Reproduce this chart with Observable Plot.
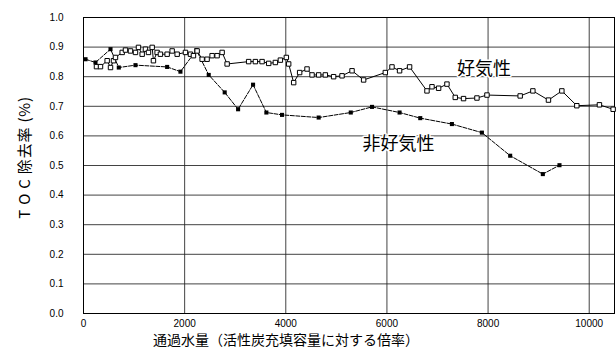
<!DOCTYPE html>
<html><head><meta charset="utf-8">
<script src="https://cdn.jsdelivr.net/npm/d3@7"></script>
<script src="https://cdn.jsdelivr.net/npm/@observablehq/plot@0.6"></script>
<style>body{margin:0;background:#fff}</style>
</head><body><div id="chart"></div>
<script>
const aerobicX = [257,336,468,534,593,632,765,830,929,1028,1087,1160,1225,1285,1358,1383,1456,1521,1654,1753,1852,2016,2115,2174,2247,2346,2444,2543,2642,2741,2840,3266,3399,3531,3662,3794,3893,4011,4057,4156,4274,4420,4519,4650,4782,4946,5112,5310,5539,5968,6100,6250,6448,6792,6891,7022,7187,7351,7515,7780,7978,8635,8886,9194,9459,9755,10202,10473];
const aerobicY = [0.834,0.834,0.854,0.831,0.854,0.865,0.882,0.890,0.887,0.882,0.899,0.876,0.893,0.882,0.899,0.854,0.882,0.876,0.876,0.887,0.876,0.882,0.876,0.871,0.887,0.859,0.859,0.871,0.871,0.882,0.843,0.851,0.851,0.851,0.845,0.848,0.856,0.865,0.843,0.780,0.814,0.826,0.806,0.806,0.806,0.800,0.803,0.820,0.789,0.814,0.833,0.820,0.833,0.752,0.766,0.761,0.775,0.730,0.726,0.728,0.738,0.735,0.752,0.721,0.752,0.702,0.705,0.690];
const anaerobicX = [40,237,534,698,1028,1654,1917,2233,2476,2792,3057,3353,3616,3926,4650,5285,5705,6250,6659,7285,7878,8437,9083,9412];
const anaerobicY = [0.859,0.848,0.893,0.831,0.839,0.833,0.817,0.890,0.806,0.747,0.690,0.773,0.679,0.671,0.662,0.679,0.698,0.679,0.660,0.640,0.611,0.533,0.471,0.501];
const xTicks = [0,2000,4000,6000,8000,10000];
const yTicks = [0,0.1,0.2,0.3,0.4,0.5,0.6,0.7,0.8,0.9,1.0];
const seriesLabels = [{name:"好気性", x:7920, y:0.824},{name:"非好気性", x:6229, y:0.571}];
const yTitle = "T O C 除去率 (%)";
const xTitle = "通過水量（活性炭充填容量に対する倍率）";

const aerobic = aerobicX.map((x,i)=>({x, y: aerobicY[i]}));
const anaerobic = anaerobicX.map((x,i)=>({x, y: anaerobicY[i]}));

const chart = Plot.plot({
  width: 616, height: 354,
  marginLeft: 83, marginRight: 2, marginTop: 17, marginBottom: 41,
  style: {fontFamily: "'Liberation Sans', Arial, 'Noto Sans CJK JP', sans-serif", background: "#fff", color: "#000"},
  x: {domain: [0, 10500], ticks: xTicks},
  y: {domain: [0, 1], ticks: yTicks},
  marks: [
    Plot.gridX(xTicks, {stroke: "#222", strokeOpacity: 0.85, strokeWidth: 1}),
    Plot.gridY(yTicks, {stroke: "#222", strokeOpacity: 0.85, strokeWidth: 1}),
    Plot.frame({stroke: "#000", strokeWidth: 1}),
    Plot.axisX({ticks: xTicks, tickSize: 0, tickPadding: 6, fontSize: 10, tickFormat: d => String(d), label: null}),
    Plot.axisY({ticks: yTicks, tickSize: 0, tickPadding: 20, fontSize: 10, tickFormat: d => d.toFixed(1), label: null}),
    Plot.line(anaerobic, {x: "x", y: "y", stroke: "#000", strokeWidth: 1, strokeDasharray: "4,1.5"}),
    Plot.dot(anaerobic, {x: "x", y: "y", symbol: "square", r: 2.3, fill: "#000", stroke: "none"}),
    Plot.line(aerobic, {x: "x", y: "y", stroke: "#000", strokeWidth: 1}),
    Plot.dot(aerobic, {x: "x", y: "y", symbol: "square", r: 2.5, fill: "#fff", stroke: "#000", strokeWidth: 1}),
    Plot.text(seriesLabels, {x: "x", y: "y", text: "name", fontSize: 18, fontFamily: "'Noto Sans CJK JP', sans-serif", fill: "#000", stroke: "#fff", strokeWidth: 3, paintOrder: "stroke"}),
    Plot.text([xTitle], {frameAnchor: "bottom", dx: -63, dy: 27, text: d => d, fontSize: 14, fontFamily: "'Noto Sans CJK JP', sans-serif", fill: "#000", lineAnchor: "middle"}),
    Plot.text([yTitle], {frameAnchor: "left", textAnchor: "middle", dx: -58, dy: -8, rotate: -90, text: d => d, fontSize: 15, fontFamily: "'Noto Sans CJK JP', sans-serif", fill: "#000", lineAnchor: "middle"})
  ]
});
d3.select(chart).selectAll("text").filter(function(){ return this.textContent === yTitle; }).attr("letter-spacing", "0.8px");
document.getElementById("chart").appendChild(chart);
</script>
</body></html>
